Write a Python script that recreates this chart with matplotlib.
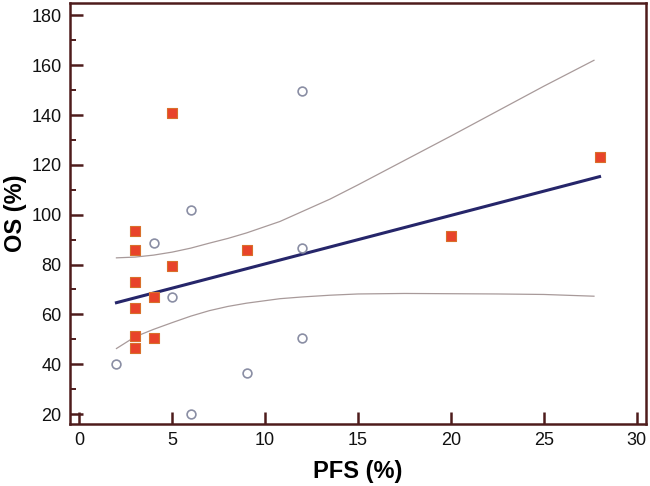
import numpy as np
import matplotlib
matplotlib.use("Agg")
from matplotlib import pyplot as plt
from matplotlib.ticker import MultipleLocator

plt.rcParams['font.family'] = ['Liberation Sans', 'DejaVu Sans']

# red filled squares
sq_pfs = [3, 3, 3, 3, 3, 3, 4, 4, 5, 5, 9, 20, 28]
sq_os = [93.5, 86, 73, 62.5, 51.5, 46.5, 67, 50.5, 79.5, 141, 86, 91.5, 123]

# open circles
ci_pfs = [12, 6, 4, 12, 5, 12, 2, 9, 6]
ci_os = [149.5, 102, 88.5, 86.5, 67, 50.5, 40, 36.5, 20]

# regression line end points
fit_pfs = [2, 28]
fit_os = [64.7, 115.3]

# confidence band
band_pfs = [2, 3, 4, 5, 6, 7, 8, 9, 10.8, 12, 13.5, 15, 17.5, 20, 22.5, 25, 27.7]
band_hi = [82.7, 83.0, 83.8, 85.0, 86.6, 88.6, 90.5, 92.7, 97.3, 101.3, 106.3,
           112.0, 121.8, 131.6, 141.6, 151.6, 162.0]
band_lo = [46.3, 51.0, 54.0, 56.7, 59.3, 61.5, 63.2, 64.5, 66.3, 67.0, 67.7,
           68.2, 68.4, 68.3, 68.2, 68.0, 67.3]

spine_col = '#4e1c1c'

fig = plt.figure(figsize=(6.5, 4.86), dpi=100)
ax = fig.add_axes([70 / 650, 1 - 424 / 486, 576 / 650, 421 / 486])

ax.plot(band_pfs, band_hi, color='#a89a9a', lw=0.9)
ax.plot(band_pfs, band_lo, color='#a89a9a', lw=0.9)
ax.plot(fit_pfs, fit_os, color='#26266a', lw=2.2)

ax.scatter(ci_pfs, ci_os, marker='o', s=40, facecolors='white',
           edgecolors='#8a8ea4', linewidths=1.2, zorder=3)
ax.scatter(sq_pfs, sq_os, marker='s', s=42, facecolors='#e8432a',
           edgecolors='#d8702a', linewidths=0.8, zorder=4)

ax.set_xlim(-0.5, 30.5)
ax.set_ylim(16, 185)
ax.xaxis.set_major_locator(MultipleLocator(5))
ax.yaxis.set_major_locator(MultipleLocator(20))
ax.yaxis.set_minor_locator(MultipleLocator(10))

for sp in ax.spines.values():
    sp.set_color(spine_col)
    sp.set_linewidth(1.8)

ax.tick_params(axis='both', which='major', direction='in', length=9,
               width=1.8, color=spine_col, labelsize=13, pad=6,
               labelcolor='#111111')
ax.tick_params(axis='y', which='minor', direction='in', length=4.5,
               width=1.4, color=spine_col)

ax.set_xlabel('PFS (%)', fontsize=17, fontweight='bold', labelpad=8)
ax.set_ylabel('OS (%)', fontsize=17, fontweight='bold', labelpad=3)

fig.savefig('out.png', dpi=100)
